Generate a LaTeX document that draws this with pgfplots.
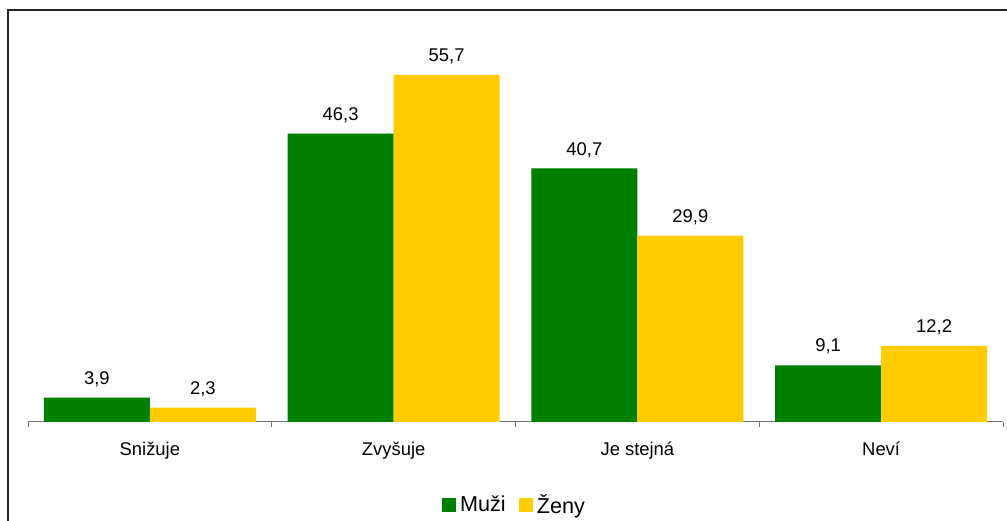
\documentclass[border=0pt]{standalone}
\usepackage{fontspec}
\setmainfont{Liberation Sans}
\usepackage{pgfplots}
\pgfplotsset{compat=1.18}
\definecolor{mgreen}{RGB}{0,128,0}
\definecolor{myellow}{RGB}{255,204,0}
\newcommand{\lblfont}{\fontsize{13.8}{16}\selectfont}
\newcommand{\legfont}{\fontsize{16.2}{19}\selectfont}
\begin{document}
\begin{tikzpicture}
\useasboundingbox (0pt,0pt) rectangle (755.25pt,390.75pt);
\draw[line width=0.9pt, black!85] (6pt,-5pt) -- (6pt,383.25pt) -- (760pt,383.25pt);
\begin{axis}[
  at={(21pt,74.25pt)}, anchor=south west,
  scale only axis, width=731.25pt, height=280.35pt,
  xmin=-0.5, xmax=3.5, ymin=0, ymax=60,
  axis x line*=bottom, axis y line=none,
  x axis line style={draw=gray!90!black, line width=0.75pt, -},
  xtick={0,1,2,3},
  xticklabels={Snižuje,Zvyšuje,Je stejná,Neví},
  major tick length=0pt,
  extra x ticks={-0.5,0.5,1.5,2.5,3.5},
  extra x tick labels={},
  extra x tick style={major tick length=3.75pt, tick align=outside, tick style={draw=gray!90!black, line width=0.75pt}},
  xticklabel style={anchor=base, yshift=-25.5pt, font=\lblfont},
  ybar=0pt, bar width=79.5pt,
  clip=false,
  nodes near coords={\pgfmathprintnumber[fixed,fixed zerofill,precision=1,use comma,assume math mode=true]{\pgfplotspointmeta}},
  nodes near coords style={anchor=base, yshift=10pt, font=\lblfont, text=black},
  legend style={at={(0.5,-0.222)}, anchor=center, draw=none, legend columns=2, font=\legfont,
     /tikz/every even column/.append style={column sep=7pt},
     nodes={inner xsep=3pt}},
  legend image code/.code={\fill[#1] (0pt,-5.25pt) rectangle (10.5pt,5.25pt);},
]
\addplot[fill=mgreen, draw=none] coordinates {(0,3.9) (1,46.3) (2,40.7) (3,9.1)};
\addplot[fill=myellow, draw=none] coordinates {(0,2.3) (1,55.7) (2,29.9) (3,12.2)};
\legend{Muži,Ženy}
\end{axis}
\end{tikzpicture}
\end{document}
